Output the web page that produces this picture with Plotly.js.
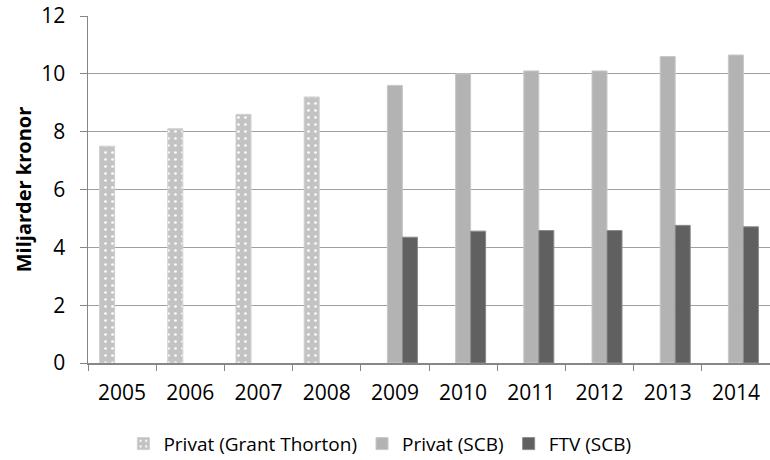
<!DOCTYPE html>
<html>
<head>
<meta charset="utf-8">
<script src="https://cdn.plot.ly/plotly-3.0.1.min.js"></script>
<style>
  html, body { margin: 0; padding: 0; background: #fff; }
  #chart { width: 770px; height: 460px; }
</style>
</head>
<body>
<div id="chart"></div>
<script>
// values (miljarder kronor)
const years = ['2005', '2006', '2007', '2008', '2009', '2010', '2011', '2012', '2013', '2014'];
const privatGT = [7.5, 8.1, 8.6, 9.2, null, null, null, null, null, null];
const privatSCB = [null, null, null, null, 9.6, 10.0, 10.1, 10.1, 10.6, 10.65];
const ftvSCB = [null, null, null, null, 4.35, 4.56, 4.58, 4.58, 4.76, 4.71];

const FONT = 'Open Sans, Lato, sans-serif';

const traces = [
  {
    type: 'bar',
    name: 'Privat (Grant Thorton)',
    x: years,
    y: privatGT,
    marker: {
      color: '#c3c3c3',
      line: { color: '#d0d0d0', width: 1 },
      pattern: { shape: '.', fgcolor: '#ffffff', bgcolor: '#c3c3c3', size: 7, solidity: 0.12 },
    },
  },
  {
    type: 'bar',
    name: 'Privat (SCB)',
    x: years,
    y: privatSCB,
    marker: { color: '#b3b3b3', line: { color: '#c8c8c8', width: 1 } },
  },
  {
    type: 'bar',
    name: 'FTV (SCB)',
    x: years,
    y: ftvSCB,
    marker: { color: '#606060', line: { color: '#8a8a8a', width: 1 } },
  },
];

const layout = {
  width: 770,
  height: 460,
  margin: { l: 88, r: 0, t: 16, b: 97, autoexpand: false },
  paper_bgcolor: '#ffffff',
  plot_bgcolor: '#ffffff',
  font: { family: FONT, size: 20, color: '#000000' },
  barmode: 'group',
  bargap: 0.34,
  bargroupgap: 0,
  showlegend: true,
  legend: {
    orientation: 'h',
    x: 0.428,
    xanchor: 'center',
    y: -0.178,
    yanchor: 'top',
    font: { family: FONT, size: 19 },
    traceorder: 'normal',
  },
  xaxis: {
    type: 'category',
    showline: true,
    linecolor: '#868686',
    linewidth: 1.5,
    ticks: 'outside',
    tickson: 'boundaries',
    ticklen: 6,
    tickcolor: '#868686',
    ticklabelstandoff: 10,
    tickfont: { family: FONT, size: 21 },
    showgrid: false,
  },
  yaxis: {
    range: [0, 12],
    dtick: 2,
    showline: true,
    linecolor: '#868686',
    linewidth: 1.5,
    ticks: 'outside',
    ticklen: 7,
    tickcolor: '#868686',
    ticklabelstandoff: 10,
    tickfont: { family: FONT, size: 21 },
    showgrid: true,
    gridcolor: '#a0a0a0',
    gridwidth: 1,
    zeroline: false,
    title: { text: '<b>Miljarder kronor</b>', font: { family: FONT, size: 20 }, standoff: 4 },
  },
};

Plotly.newPlot('chart', traces, layout, { displayModeBar: false, staticPlot: true });
</script>
</body>
</html>
